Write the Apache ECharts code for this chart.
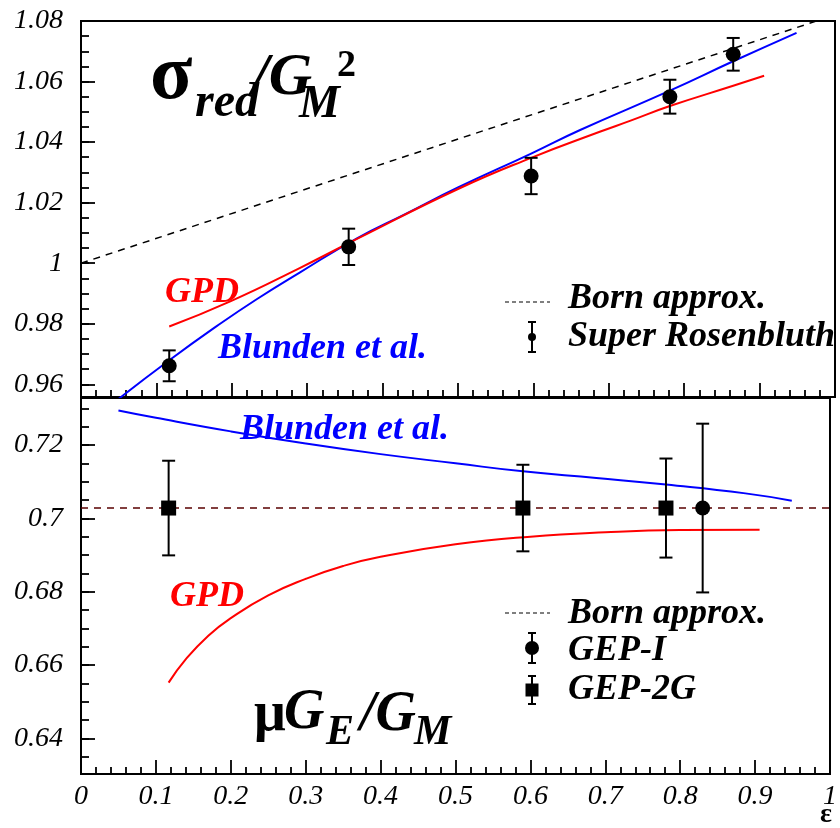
<!DOCTYPE html>
<html>
<head>
<meta charset="utf-8">
<script src="https://cdn.jsdelivr.net/npm/echarts@6/dist/echarts.min.js"></script>
<style>html,body{margin:0;padding:0;background:#fff}#c{width:840px;height:828px}</style>
</head>
<body>
<div id="c"></div>
<script>
// ---------- data ----------
// Top panel: sigma_red / G_M^2 vs epsilon
var bornTop = [[0, 1.0], [1, 1.082]];
var blundenTop = [[0.05, 0.9552], [0.118, 0.9681], [0.18, 0.9792], [0.233, 0.9881], [0.29, 0.9969], [0.366, 1.0082], [0.43, 1.0162], [0.5, 1.025], [0.597, 1.0362], [0.662, 1.044], [0.781, 1.057], [0.865, 1.0667], [0.949, 1.0761]];
var gpdTop = [[0.117, 0.9791], [0.198, 0.9874], [0.29, 0.9984], [0.366, 1.008], [0.5, 1.0245], [0.597, 1.0348], [0.688, 1.0434], [0.728, 1.047], [0.781, 1.0519], [0.865, 1.0586], [0.906, 1.0619]];
var superRosenbluth = [[0.117, 0.9661, 0.0051], [0.355, 1.0054, 0.006], [0.597, 1.0288, 0.006], [0.781, 1.055, 0.0056], [0.865, 1.069, 0.0054]];

// Bottom panel: mu G_E / G_M vs epsilon
var bornBottom = [[0, 0.7028], [1, 0.7028]];
var blundenBottom = [[0.05, 0.7294], [0.1, 0.7274], [0.2, 0.7237], [0.3, 0.7204], [0.4, 0.7175], [0.5, 0.715], [0.59, 0.7128], [0.688, 0.711], [0.781, 0.7092], [0.887, 0.7068], [0.949, 0.7048]];
var gpdBottom = [[0.117, 0.6552], [0.14, 0.6616], [0.17, 0.668], [0.2, 0.6728], [0.25, 0.679], [0.3, 0.6835], [0.35, 0.687], [0.4, 0.6895], [0.5, 0.6929], [0.6, 0.695], [0.7, 0.6962], [0.8, 0.6968], [0.906, 0.6969]];
var gep2G = [[0.117, 0.7028, 0.0129], [0.59, 0.7028, 0.0118], [0.781, 0.7028, 0.0135]];
var gepI = [[0.83, 0.7028, 0.023]];

// axis ticks
var xRange = [0, 1];
var topYRange = [0.9558, 1.08];
var bottomYRange = [0.6303, 0.7328];
var topYMajor = [0.96, 0.98, 1.0, 1.02, 1.04, 1.06, 1.08];
var topYMinor = [0.96, 0.965, 0.97, 0.975, 0.98, 0.985, 0.99, 0.995, 1.0, 1.005, 1.01, 1.015, 1.02, 1.025, 1.03, 1.035, 1.04, 1.045, 1.05, 1.055, 1.06, 1.065, 1.07, 1.075, 1.08];
var bottomYMajor = [0.64, 0.66, 0.68, 0.7, 0.72];
var bottomYMinor = [0.635, 0.64, 0.645, 0.65, 0.655, 0.66, 0.665, 0.67, 0.675, 0.68, 0.685, 0.69, 0.695, 0.7, 0.705, 0.71, 0.715, 0.72, 0.725, 0.73];

// ---------- chart ----------
var chart = echarts.init(document.getElementById('c'), null, {renderer: 'canvas'});
var SERIF = '"Liberation Serif", "Times New Roman", serif';
function labelStyle() { return {fontFamily: SERIF, fontStyle: 'italic', fontWeight: 'normal', fontSize: 28, color: '#000'}; }

function xAxisDef(gi, showLabel) {
  return {
    type: 'value', gridIndex: gi, position: 'bottom', min: xRange[0], max: xRange[1], interval: 0.1,
    axisLine: {show: true, onZero: false, lineStyle: {color: '#000', width: 2}},
    axisTick: {show: true, inside: true, length: 14, lineStyle: {color: '#000', width: 1.8}},
    minorTick: {show: true, splitNumber: 5, length: 7, lineStyle: {color: '#000', width: 1.8}},
    splitLine: {show: false},
    axisLabel: Object.assign({show: showLabel, margin: 9, formatter: function (v) { return String(+v.toFixed(1)); }}, labelStyle())
  };
}
function yAxisMajor(gi, range, major) {
  return {
    type: 'value', gridIndex: gi, position: 'left', min: range[0], max: range[1],
    axisLine: {show: true, onZero: false, lineStyle: {color: '#000', width: 2}},
    axisTick: {show: true, inside: true, length: 14, customValues: major, lineStyle: {color: '#000', width: 1.8}},
    splitLine: {show: false},
    axisLabel: Object.assign({show: true, margin: 18, customValues: major, formatter: function (v) { return String(+v.toFixed(2)); }}, labelStyle())
  };
}
function yAxisMinor(gi, range, minor) {
  return {
    type: 'value', gridIndex: gi, position: 'left', min: range[0], max: range[1],
    axisLine: {show: false, onZero: false},
    axisTick: {show: true, inside: true, length: 8, customValues: minor, lineStyle: {color: '#000', width: 1.8}},
    splitLine: {show: false},
    axisLabel: {show: false}
  };
}

function errorBarSeries(name, data, xi, yi) {
  return {
    name: name, type: 'custom', xAxisIndex: xi, yAxisIndex: yi, data: data, z: 5,
    renderItem: function (params, api) {
      var x = api.value(0), y = api.value(1), e = api.value(2);
      var p1 = api.coord([x, y + e]);
      var p2 = api.coord([x, y - e]);
      var cw = 6.5;
      var st = {stroke: '#000', lineWidth: 2};
      return {type: 'group', children: [
        {type: 'line', shape: {x1: p1[0], y1: p1[1], x2: p2[0], y2: p2[1]}, style: st},
        {type: 'line', shape: {x1: p1[0] - cw, y1: p1[1], x2: p1[0] + cw, y2: p1[1]}, style: st},
        {type: 'line', shape: {x1: p2[0] - cw, y1: p2[1], x2: p2[0] + cw, y2: p2[1]}, style: st}
      ]};
    }
  };
}

var annotFont = 'italic bold 36px ' + SERIF;
function txt(x, y, s, font, color) {
  return {type: 'text', x: x, y: y, z: 100, style: {text: s, font: font, fill: color || '#000', textVerticalAlign: 'middle'}};
}
function hline(x1, x2, y, dash, color) {
  return {type: 'line', z: 100, shape: {x1: x1, y1: y, x2: x2, y2: y}, style: {stroke: color || '#000', lineWidth: 1.2, lineDash: dash}};
}
function vbar(x, y1, y2, cw) {
  return [
    {type: 'line', z: 100, shape: {x1: x, y1: y1, x2: x, y2: y2}, style: {stroke: '#000', lineWidth: 2}},
    {type: 'line', z: 100, shape: {x1: x - cw, y1: y1, x2: x + cw, y2: y1}, style: {stroke: '#000', lineWidth: 2}},
    {type: 'line', z: 100, shape: {x1: x - cw, y1: y2, x2: x + cw, y2: y2}, style: {stroke: '#000', lineWidth: 2}}
  ];
}

var graphics = [
  // top title sigma_red / G_M^2
  txt(150, 78, 'σ', 'bold 78px ' + SERIF),
  txt(195, 104, 'red', 'italic bold 48px ' + SERIF),
  txt(252, 78, '/G', 'italic bold 60px ' + SERIF),
  txt(299, 105, 'M', 'italic bold 46px ' + SERIF),
  txt(337, 66, '2', 'bold 38px ' + SERIF),
  // top annotations
  txt(165, 293, 'GPD', annotFont, '#ff0000'),
  txt(218, 349, 'Blunden et al.', annotFont, '#0000ff'),
  hline(505, 550, 302, [4, 3]),
  txt(568, 299, 'Born approx.', annotFont),
  txt(568, 337, 'Super Rosenbluth', annotFont),
  {type: 'circle', z: 100, shape: {cx: 532, cy: 337, r: 4}, style: {fill: '#000'}},
  // bottom annotations
  txt(240, 430, 'Blunden et al.', annotFont, '#0000ff'),
  txt(170, 597, 'GPD', annotFont, '#ff0000'),
  hline(505, 550, 613, [4, 3]),
  txt(568, 614, 'Born approx.', annotFont),
  {type: 'circle', z: 100, shape: {cx: 532, cy: 648, r: 7}, style: {fill: '#000'}},
  txt(568, 651, 'GEP-I', annotFont),
  {type: 'rect', z: 100, shape: {x: 525.5, y: 683.5, width: 13, height: 13}, style: {fill: '#000'}},
  txt(568, 690, 'GEP-2G', annotFont),
  // bottom title mu G_E / G_M
  txt(254, 716, 'μ', 'bold 56px ' + SERIF),
  txt(284, 714, 'G', 'italic bold 56px ' + SERIF),
  txt(326, 733, 'E', 'italic bold 42px ' + SERIF),
  txt(360, 716, '/G', 'italic bold 56px ' + SERIF),
  txt(414, 733, 'M', 'italic bold 42px ' + SERIF),
  // x axis title
  txt(820, 815, 'ε', 'bold 28px ' + SERIF)
].concat(vbar(532, 322, 352, 4), vbar(532, 633, 663, 4), vbar(532, 676, 704, 4));

var option = {
  animation: false,
  backgroundColor: '#fff',
  grid: [
    {left: 81, top: 21, width: 754, height: 376, show: true, borderColor: '#000', borderWidth: 2, backgroundColor: 'transparent'},
    {left: 81, top: 398, width: 754, height: 376, show: true, borderColor: '#000', borderWidth: 2, backgroundColor: 'transparent'}
  ],
  xAxis: [xAxisDef(0, false), xAxisDef(1, true)],
  yAxis: [
    yAxisMajor(0, topYRange, topYMajor), yAxisMinor(0, topYRange, topYMinor),
    yAxisMajor(1, bottomYRange, bottomYMajor), yAxisMinor(1, bottomYRange, bottomYMinor)
  ],
  series: [
    {name: 'Born approx.', type: 'line', xAxisIndex: 0, yAxisIndex: 0, data: bornTop, symbol: 'none', clip: true,
      lineStyle: {color: '#000', width: 1.5, type: [7, 6]}},
    {name: 'Blunden et al.', type: 'line', xAxisIndex: 0, yAxisIndex: 0, data: blundenTop, symbol: 'none', smooth: 0.5, clip: true,
      lineStyle: {color: '#0000ff', width: 2}},
    {name: 'GPD', type: 'line', xAxisIndex: 0, yAxisIndex: 0, data: gpdTop, symbol: 'none', smooth: 0.5, clip: true,
      lineStyle: {color: '#ff0000', width: 2}},
    errorBarSeries('Super Rosenbluth err', superRosenbluth, 0, 0),
    {name: 'Super Rosenbluth', type: 'scatter', xAxisIndex: 0, yAxisIndex: 0, data: superRosenbluth, symbol: 'circle', symbolSize: 15, z: 6,
      itemStyle: {color: '#000', opacity: 1}},

    {name: 'Born approx. 2', type: 'line', xAxisIndex: 1, yAxisIndex: 2, data: bornBottom, symbol: 'none',
      lineStyle: {color: '#5a0000', width: 1.5, type: [7, 6]}},
    {name: 'Blunden et al. 2', type: 'line', xAxisIndex: 1, yAxisIndex: 2, data: blundenBottom, symbol: 'none', smooth: 0.5,
      lineStyle: {color: '#0000ff', width: 2}},
    {name: 'GPD 2', type: 'line', xAxisIndex: 1, yAxisIndex: 2, data: gpdBottom, symbol: 'none', smooth: 0.5,
      lineStyle: {color: '#ff0000', width: 2}},
    errorBarSeries('GEP-2G err', gep2G, 1, 2),
    errorBarSeries('GEP-I err', gepI, 1, 2),
    {name: 'GEP-2G', type: 'scatter', xAxisIndex: 1, yAxisIndex: 2, data: gep2G, symbol: 'rect', symbolSize: 15, z: 6,
      itemStyle: {color: '#000', opacity: 1}},
    {name: 'GEP-I', type: 'scatter', xAxisIndex: 1, yAxisIndex: 2, data: gepI, symbol: 'circle', symbolSize: 15, z: 6,
      itemStyle: {color: '#000', opacity: 1}}
  ],
  graphic: graphics
};
chart.setOption(option);
</script>
</body>
</html>
